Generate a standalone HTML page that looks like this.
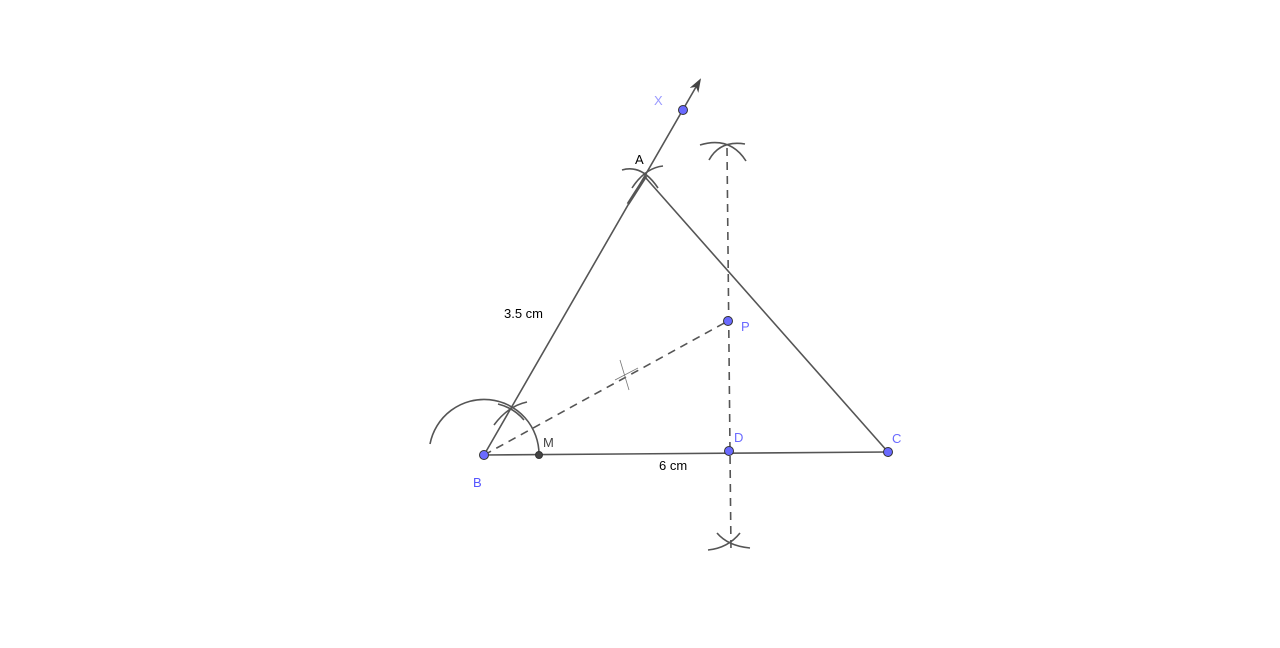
<!DOCTYPE html>
<html><head><meta charset="utf-8"><style>
html,body{margin:0;padding:0;background:#fff;}
svg{display:block;font-family:"Liberation Sans",sans-serif;}
</style></head><body>
<svg width="1280" height="648" viewBox="0 0 1280 648">
<defs><marker id="ar" markerWidth="14" markerHeight="10" refX="12" refY="5" orient="auto" markerUnits="userSpaceOnUse"><path d="M0,0 L14,5 L0,10 L4,5 Z" fill="#444"/></marker></defs>
<g fill="none" stroke="#555" stroke-width="1.6">
<line x1="484" y1="455" x2="700" y2="80" marker-end="url(#ar)"/>
<line x1="628" y1="204" x2="646" y2="176" stroke-width="3"/>
<line x1="645" y1="177" x2="888" y2="452"/>
<line x1="484" y1="455" x2="888" y2="452"/>
<line x1="484" y1="455" x2="728" y2="321" stroke-dasharray="8,6"/>
<line x1="727" y1="148" x2="731" y2="552" stroke-dasharray="8,6"/>
<path d="M430,444 A55,55 0 0 1 539,455"/>
<path d="M494,425 Q508,406 527,402"/>
<path d="M498,404 Q514,408 524,420"/>
<path d="M622,170 Q642,164 658,188"/>
<path d="M632,188 Q645,168 663,166"/>
<path d="M700,145 Q730,136 746,161"/>
<path d="M709,160 Q720,140 745,144"/>
<path d="M708,550 Q728,548 740,533"/>
<path d="M717,533 Q728,546 750,548"/>
</g>
<g stroke="#777" stroke-width="0.8">
<line x1="620" y1="360" x2="629" y2="390"/>
<line x1="615" y1="380" x2="638" y2="368"/>
</g>
<g stroke="#333" stroke-width="1">
<circle cx="484" cy="455" r="4.5" fill="#6a6aff"/>
<circle cx="539" cy="455" r="3.5" fill="#444"/>
<circle cx="683" cy="110" r="4.5" fill="#6a6aff"/>
<circle cx="728" cy="321" r="4.5" fill="#6a6aff"/>
<circle cx="729" cy="451" r="4.5" fill="#6a6aff"/>
<circle cx="888" cy="452" r="4.5" fill="#6a6aff"/>
</g>
<g font-size="13">
<text x="654" y="105" fill="#9a9aff">X</text>
<text x="635" y="164" fill="#000">A</text>
<text x="741" y="331" fill="#6a6aff">P</text>
<text x="734" y="442" fill="#6a6aff">D</text>
<text x="892" y="443" fill="#6a6aff">C</text>
<text x="473" y="487" fill="#5555ff">B</text>
<text x="543" y="447" fill="#444">M</text>
<text x="504" y="318" fill="#000">3.5 cm</text>
<text x="659" y="470" fill="#000">6 cm</text>
</g>
</svg>
</body></html>
